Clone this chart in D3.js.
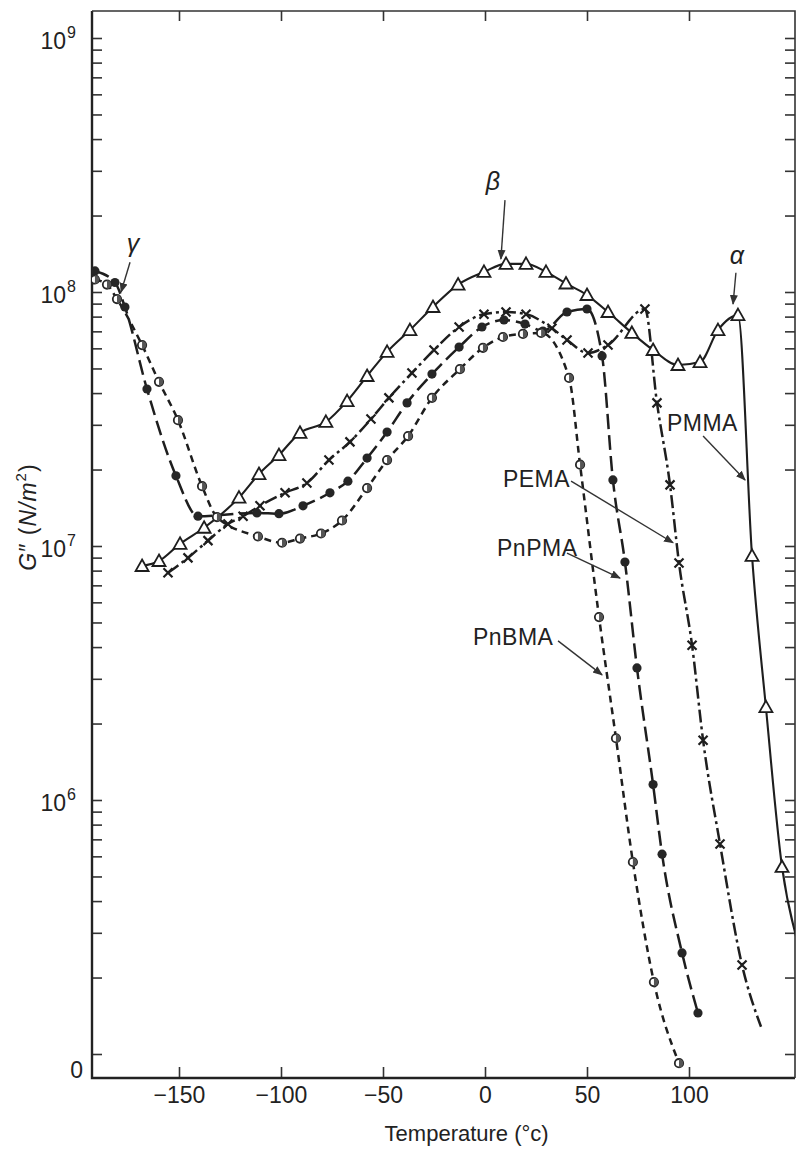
<!DOCTYPE html>
<meta charset="utf-8">
<style>
body { margin: 0; background: #fff; }
svg { display: block; }
text { font-family: "Liberation Sans", Arial, sans-serif; fill: #222; }
</style>
<svg width="797" height="1150"></svg>
<script src="https://d3js.org/d3.v7.min.js"></script>
<script>

// temperatures (deg C) and loss modulus G'' (N/m^2)
var pmmaT = [-168.1, -159.8, -149.5, -137.7, -120.6, -110.8, -101.0, -90.7, -78.0, -67.6, -57.8, -48.0, -36.8, -25.5, -13.2, -0.5,
             10.3, 20.1, 29.9, 39.7, 50.0, 60.3, 72.0, 82.4, 94.6, 105.4, 114.2, 124.0, 130.9, 137.7, 145.6];
var pmmaG = [8.34e6, 8.73e6, 1.02e7, 1.18e7, 1.55e7, 1.92e7, 2.28e7, 2.79e7, 3.08e7, 3.72e7, 4.67e7, 5.81e7, 7.08e7, 8.73e7, 1.07e8, 1.20e8,
             1.29e8, 1.29e8, 1.20e8, 1.08e8, 9.73e7, 8.34e7, 6.90e7, 5.91e7, 5.16e7, 5.30e7, 7.08e7, 8.11e7, 9.14e6, 2.32e6, 5.45e5];
var pmmaEnd = [153, 2.8e5];

var pemaT = [-155.4, -145.6, -135.8, -126.0, -118.6, -110.3, -98.0, -87.3, -76.5, -66.2, -55.9, -47.1, -35.8, -25.0, -12.7, -0.5,
             10.3, 20.1, 32.8, 40.2, 50.5, 60.3, 78.4, 84.3, 90.7, 95.1, 101.5, 106.9, 115.2, 126.0];
var pemaG = [7.84e6, 8.98e6, 1.05e7, 1.22e7, 1.31e7, 1.44e7, 1.62e7, 1.77e7, 2.18e7, 2.57e7, 3.16e7, 3.83e7, 4.80e7, 5.91e7, 7.28e7, 8.18e7,
             8.34e7, 8.18e7, 7.2e7, 6.47e7, 5.75e7, 6.18e7, 8.57e7, 3.66e7, 1.74e7, 8.57e6, 4.07e6, 1.72e6, 6.71e5, 2.24e5];
var pemaEnd = [135.3, 1.28e5];

var pnpmaT = [-191.2, -181.4, -176.5, -165.7, -151.5, -140.7, -111.8, -101.0, -89.2, -76.0, -67.2, -57.8, -48.0, -38.2, -26.0, -12.7,
              -1.5, 9.3, 19.6, 28.4, 40.2, 50.0, 57.4, 62.7, 68.6, 74.5, 82.4, 86.8, 96.6, 104.4];
var pnpmaG = [1.21e8, 1.09e8, 8.73e7, 4.15e7, 1.89e7, 1.31e7, 1.35e7, 1.34e7, 1.44e7, 1.62e7, 1.80e7, 2.22e7, 2.81e7, 3.66e7, 4.75e7, 6.07e7,
              7.28e7, 7.76e7, 7.48e7, 7.02e7, 8.34e7, 8.57e7, 5.60e7, 1.82e7, 8.65e6, 3.31e6, 1.15e6, 6.12e5, 2.50e5, 1.45e5];

var pnbmaT = [-191.2, -185.3, -180.4, -168.1, -159.8, -150.5, -138.7, -131.4, -111.3, -99.5, -90.7, -80.4, -70.1, -57.8, -48.0, -37.7,
              -26.0, -12.3, -1.0, 8.8, 18.6, 27.5, 41.2, 46.6, 55.9, 64.2, 72.5, 82.8, 95.1];
var pnbmaG = [1.12e8, 1.07e8, 9.38e7, 6.18e7, 4.43e7, 3.13e7, 1.72e7, 1.30e7, 1.09e7, 1.03e7, 1.07e7, 1.12e7, 1.26e7, 1.69e7, 2.18e7, 2.71e7,
              3.83e7, 4.97e7, 6.03e7, 6.65e7, 6.84e7, 6.9e7, 4.59e7, 2.09e7, 5.25e6, 1.75e6, 5.70e5, 1.92e5, 9.2e4];

var xTicks = [-150, -100, -50, 0, 50, 100];
var yMajor = [1e6, 1e7, 1e8, 1e9];
var yBottomLabel = "0";

var svg = d3.select("svg"),
    frame = {left: 92, right: 795, top: 11, bottom: 1078};

var x = d3.scaleLinear().domain([-150, 100]).range([179, 689]);
var y = d3.scaleLog().domain([1e5, 1e9]).range([1054, 38]);

var yMinor = [];
for (var e = 5; e < 9; e++)
  for (var m = 1; m < 10; m++) yMinor.push(m * Math.pow(10, e));
yMinor.push(1e9);

var defs = svg.append("defs");
defs.append("clipPath").attr("id", "plot")
  .append("rect")
    .attr("x", frame.left).attr("y", frame.top)
    .attr("width", frame.right - frame.left).attr("height", frame.bottom - frame.top);
defs.append("marker")
    .attr("id", "head")
    .attr("viewBox", "0 0 10 10")
    .attr("refX", 9).attr("refY", 5)
    .attr("markerWidth", 10).attr("markerHeight", 10)
    .attr("markerUnits", "userSpaceOnUse")
    .attr("orient", "auto")
  .append("path")
    .attr("d", "M0,1 L10,5 L0,9 Z")
    .attr("fill", "#333");

// axes, ticks all pointing inwards
function styleAxis(g) {
  g.select(".domain").remove();
  g.selectAll(".tick line").attr("stroke", "#333").attr("stroke-width", 1.6);
}

svg.append("g")
    .attr("transform", "translate(0," + frame.bottom + ")")
    .call(d3.axisBottom(x).tickValues(xTicks).tickSize(-11).tickPadding(9)
      .tickFormat(function(d) { return d < 0 ? "\u2212" + (-d) : d; }))
    .call(styleAxis)
    .selectAll("text")
      .attr("font-size", 23).attr("font-family", "Liberation Sans, Arial, sans-serif").attr("fill", "#222");

svg.append("g")
    .attr("transform", "translate(0," + frame.top + ")")
    .call(d3.axisTop(x).tickValues(xTicks).tickSize(-10).tickFormat(""))
    .call(styleAxis);

svg.append("g")
    .attr("transform", "translate(" + frame.left + ",0)")
    .call(d3.axisLeft(y).tickValues(yMinor).tickSize(-10).tickFormat(""))
    .call(styleAxis);

svg.append("g")
    .attr("transform", "translate(" + frame.right + ",0)")
    .call(d3.axisRight(y).tickValues(yMinor).tickSize(-10).tickFormat(""))
    .call(styleAxis);

// frame
svg.append("path")
    .attr("d", "M" + frame.left + "," + frame.top + "V" + frame.bottom + "H" + frame.right)
    .attr("fill", "none").attr("stroke", "#222").attr("stroke-width", 2.4);
svg.append("path")
    .attr("d", "M" + frame.left + "," + frame.top + "H" + frame.right + "V" + frame.bottom)
    .attr("fill", "none").attr("stroke", "#333").attr("stroke-width", 1.6);

// decade labels 10^n
var yl = svg.append("g").attr("text-anchor", "end");
yMajor.forEach(function(v) {
  var t = yl.append("text")
      .attr("x", frame.left - 16)
      .attr("y", y(v) + 11)
      .attr("font-size", 23);
  t.append("tspan").text("10");
  t.append("tspan").attr("font-size", 16).attr("dy", -11).attr("dx", 1).text(Math.round(Math.log10(v)));
});
yl.append("text")
    .attr("x", frame.left - 9).attr("y", frame.bottom)
    .attr("font-size", 23)
    .text(yBottomLabel);

// axis titles
svg.append("text")
    .attr("x", x(-9)).attr("y", 1141)
    .attr("text-anchor", "middle")
    .attr("font-size", 22)
    .text("Temperature (\u00b0c)");

var yt = svg.append("text")
    .attr("transform", "translate(36," + y(1.3e7) + ") rotate(-90)")
    .attr("text-anchor", "middle")
    .attr("font-size", 23)
    .attr("letter-spacing", 1);
yt.append("tspan").attr("font-style", "italic").text("G");
yt.append("tspan").text("\u2033 (");
yt.append("tspan").attr("font-style", "italic").text("N/m");
yt.append("tspan").attr("font-size", 15).attr("dy", -10).text("2");
yt.append("tspan").attr("dy", 10).text(")");

// curves
var line = d3.line()
    .x(function(d) { return x(d[0]); })
    .y(function(d) { return y(d[1]); })
    .curve(d3.curveMonotoneX);

function pairs(t, g) { return t.map(function(v, i) { return [v, g[i]]; }); }

var series = [
  {pts: pairs(pmmaT, pmmaG), end: pmmaEnd, dash: null, mark: "tri"},
  {pts: pairs(pemaT, pemaG), end: pemaEnd, dash: "13,4,3,4", mark: "cross"},
  {pts: pairs(pnpmaT, pnpmaG), end: null, dash: "15,6", mark: "dot"},
  {pts: pairs(pnbmaT, pnbmaG), end: null, dash: "7,5", mark: "half"}
];

var plot = svg.append("g").attr("clip-path", "url(#plot)");

series.forEach(function(s) {
  var path = s.end ? s.pts.concat([s.end]) : s.pts;
  plot.append("path")
      .datum(path)
      .attr("fill", "none")
      .attr("stroke", "#1e1e1e")
      .attr("stroke-width", s.dash ? 2.5 : 2.1)
      .attr("stroke-dasharray", s.dash)
      .attr("d", line);
});

series.forEach(function(s) {
  var g = plot.append("g").selectAll("g")
    .data(s.pts)
    .join("g")
      .attr("transform", function(d) { return "translate(" + x(d[0]) + "," + y(d[1]) + ")"; });
  if (s.mark === "tri") {
    g.append("path").attr("d", "M0,-6.5L6.5,5L-6.5,5Z")
        .attr("fill", "#fff").attr("stroke", "#1e1e1e").attr("stroke-width", 1.8);
  } else if (s.mark === "cross") {
    g.append("path").attr("d", "M-4.5,-4.5L4.5,4.5M-4.5,4.5L4.5,-4.5")
        .attr("stroke", "#1e1e1e").attr("stroke-width", 2.2);
  } else if (s.mark === "dot") {
    g.append("circle").attr("r", 4.6).attr("fill", "#262626");
  } else {
    g.append("circle").attr("r", 4.2)
        .attr("fill", "#fff").attr("stroke", "#262626").attr("stroke-width", 1.8);
    g.append("path").attr("d", "M0,-4.2A4.2,4.2 0 0,1 0,4.2Z").attr("fill", "#555");
  }
});

// annotations
var notes = [
  {text: "PMMA", at: [89.2, 2.84e7], from: [106.9, 2.71e7], to: [127.5, 1.82e7]},
  {text: "PEMA", at: [8.8, 1.71e7], from: [42.2, 1.80e7], to: [92.2, 1.03e7]},
  {text: "PnPMA", at: [5.9, 9.14e6], from: [40.2, 9.37e6], to: [66.2, 7.48e6]},
  {text: "PnBMA", at: [-5.9, 4.07e6], from: [35.8, 4.23e6], to: [57.4, 3.11e6]}
];
var greek = [
  {text: "\u03b3", at: [-172.5, 1.44e8], from: [-174, 1.31e8], to: [-178.4, 1.0e8]},
  {text: "\u03b2", at: [3.9, 2.52e8], from: [9.8, 2.30e8], to: [7.8, 1.35e8]},
  {text: "\u03b1", at: [123.5, 1.29e8], from: [123, 1.19e8], to: [121.6, 8.97e7]}
];

var ann = svg.append("g");
notes.concat(greek).forEach(function(n) {
  ann.append("line")
      .attr("x1", x(n.from[0])).attr("y1", y(n.from[1]))
      .attr("x2", x(n.to[0])).attr("y2", y(n.to[1]))
      .attr("stroke", "#333").attr("stroke-width", 1.4)
      .attr("marker-end", "url(#head)");
});
notes.forEach(function(n) {
  ann.append("text")
      .attr("x", x(n.at[0])).attr("y", y(n.at[1]))
      .attr("font-size", 23)
      .attr("letter-spacing", 0.5)
      .text(n.text);
});
greek.forEach(function(n) {
  ann.append("text")
      .attr("x", x(n.at[0])).attr("y", y(n.at[1]))
      .attr("text-anchor", "middle")
      .attr("font-family", "Liberation Serif, serif")
      .attr("font-style", "italic")
      .attr("font-size", 25)
      .text(n.text);
});

</script>
